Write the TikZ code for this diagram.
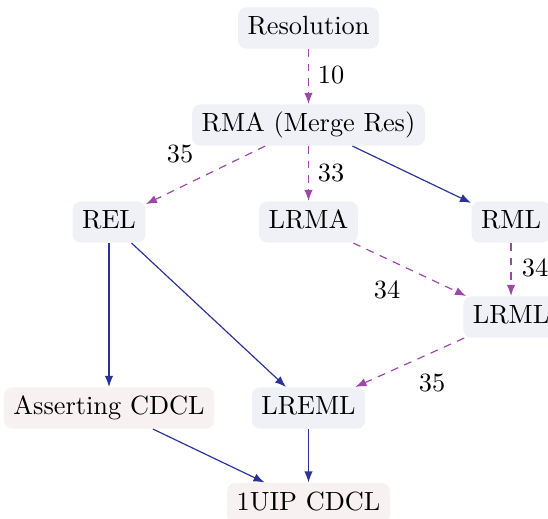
\documentclass[tikz,border=0pt]{standalone}
\usetikzlibrary{arrows.meta}
\definecolor{boxblue}{RGB}{240,241,247}
\definecolor{boxpink}{RGB}{247,241,241}
\definecolor{edgepurple}{RGB}{155,72,168}
\definecolor{edgeblue}{RGB}{43,50,150}
\tikzset{
  nbox/.style={rounded corners=3pt, inner xsep=3.6pt, inner ysep=3.3pt,
    text height=7pt, text depth=2pt, font=\normalsize},
  bluebox/.style={nbox, fill=boxblue},
  pinkbox/.style={nbox, fill=boxpink},
  solidedge/.style={draw=edgeblue, line width=0.45pt, -{Latex[length=4.2pt,width=3.2pt]}},
  dashedge/.style={draw=edgepurple, line width=0.45pt, dash pattern=on 3pt off 2.5pt,
    -{Latex[length=4.2pt,width=3.2pt]}},
  lbl/.style={inner sep=0pt, font=\normalsize},
}
\begin{document}
\begin{tikzpicture}[x=0.38pt,y=-0.38pt]
\useasboundingbox (0,0) rectangle (548,518);
\node[bluebox] (res) at (308.5,28) {Resolution};
\node[bluebox] (rma) at (308.5,125) {RMA (Merge Res)};
\node[bluebox] (rel) at (109,222) {REL};
\node[bluebox] (lrma) at (308.5,222) {LRMA};
\node[bluebox] (rml) at (511,222) {RML};
\node[bluebox] (lrml) at (511,317) {LRML};
\node[pinkbox] (acdcl) at (109,408) {Asserting CDCL};
\node[bluebox] (lreml) at (308.5,408) {LREML};
\node[pinkbox] (uip) at (308.5,503.5) {1UIP CDCL};

\draw[dashedge] (res) -- (rma);
\draw[dashedge] (rma) -- (rel);
\draw[dashedge] (rma) -- (lrma);
\draw[solidedge] (rma) -- (rml);
\draw[solidedge] (rel) -- (acdcl);
\draw[solidedge] (rel) -- (lreml);
\draw[dashedge] (lrma) -- (lrml);
\draw[dashedge] (rml) -- (lrml);
\draw[dashedge] (lrml) -- (lreml);
\draw[solidedge] (acdcl) -- (uip);
\draw[solidedge] (lreml) -- (uip);

\node[lbl] (l10) at (331,75) {10};
\node[lbl] (l35a) at (180,154) {35};
\node[lbl] (l33) at (331,173) {33};
\node[lbl] (l34a) at (387,290) {34};
\node[lbl] (l34b) at (535,268) {34};
\node[lbl] (l35b) at (432,383) {35};
\end{tikzpicture}
\end{document}
